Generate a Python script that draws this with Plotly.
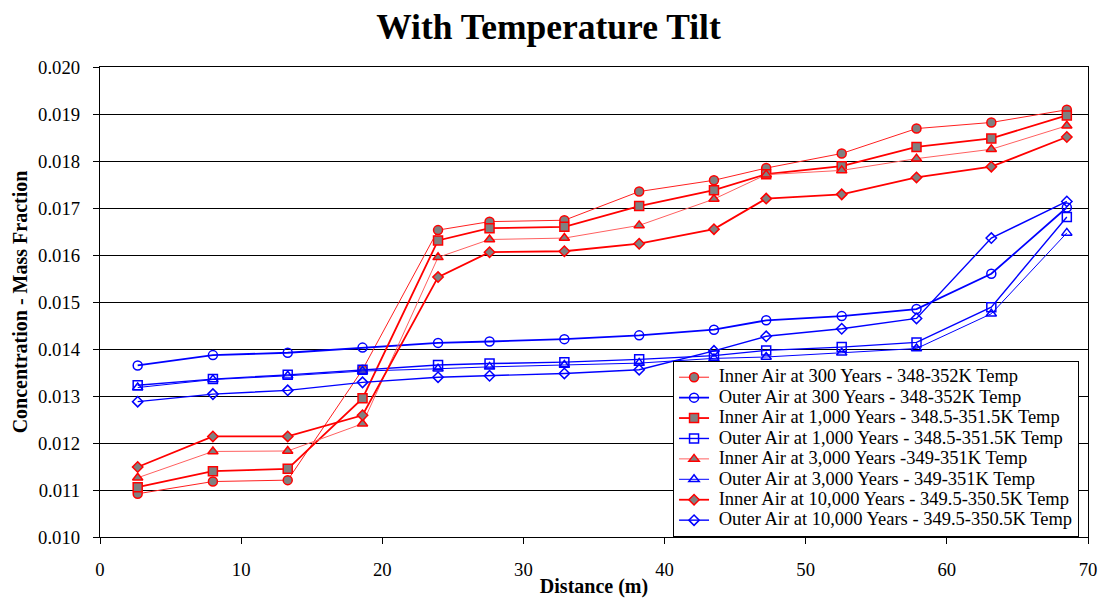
import plotly.graph_objects as go

distance = [2.67, 8.0, 13.3, 18.6, 23.95, 27.6, 32.9, 38.2, 43.5, 47.2, 52.55, 57.85, 63.15, 68.5]

inner_300 = [0.01092, 0.01118, 0.01121, 0.01356, 0.01653, 0.01671, 0.01674, 0.01735, 0.01759, 0.01785, 0.01816, 0.01869, 0.01882, 0.01909]
outer_300 = [0.01365, 0.01387, 0.01392, 0.01403, 0.01413, 0.01416, 0.01421, 0.01429, 0.01441, 0.01461, 0.01470, 0.01485, 0.01560, 0.01701]
inner_1000 = [0.01106, 0.01140, 0.01145, 0.01295, 0.01631, 0.01657, 0.01660, 0.01704, 0.01738, 0.01772, 0.01789, 0.01830, 0.01848, 0.01897]
outer_1000 = [0.01323, 0.01336, 0.01345, 0.01356, 0.01366, 0.01369, 0.01372, 0.01378, 0.01386, 0.01397, 0.01404, 0.01414, 0.01489, 0.01681]
inner_3000 = [0.01126, 0.01182, 0.01183, 0.01241, 0.01595, 0.01633, 0.01636, 0.01663, 0.01719, 0.01771, 0.01780, 0.01805, 0.01825, 0.01875]
outer_3000 = [0.01318, 0.01335, 0.01343, 0.01353, 0.01358, 0.01362, 0.01366, 0.01370, 0.01380, 0.01383, 0.01392, 0.01401, 0.01475, 0.01647]
inner_10000 = [0.01149, 0.01214, 0.01214, 0.01259, 0.01553, 0.01606, 0.01608, 0.01624, 0.01655, 0.01720, 0.01729, 0.01765, 0.01788, 0.01851]
outer_10000 = [0.01288, 0.01304, 0.01312, 0.01329, 0.01340, 0.01343, 0.01348, 0.01356, 0.01396, 0.01427, 0.01443, 0.01465, 0.01636, 0.01714]

names = [
    "Inner Air at 300 Years - 348-352K Temp",
    "Outer Air at 300 Years - 348-352K Temp",
    "Inner Air at 1,000 Years - 348.5-351.5K Temp",
    "Outer Air at 1,000 Years - 348.5-351.5K Temp",
    "Inner Air at 3,000 Years -349-351K Temp",
    "Outer Air at 3,000 Years - 349-351K Temp",
    "Inner Air at 10,000 Years - 349.5-350.5K Temp",
    "Outer Air at 10,000 Years - 349.5-350.5K Temp",
]
series = [inner_300, outer_300, inner_1000, outer_1000, inner_3000, outer_3000, inner_10000, outer_10000]

styles = [
    dict(line=dict(color="#FF2020", width=1), marker=dict(symbol="circle", size=9, color="#808080", line=dict(color="#FF0000", width=1.5))),
    dict(line=dict(color="#0000FF", width=1.8), marker=dict(symbol="circle-open", size=9, color="#0000FF", line=dict(width=1.5))),
    dict(line=dict(color="#FF0000", width=1.8), marker=dict(symbol="square", size=9, color="#808080", line=dict(color="#FF0000", width=1.5))),
    dict(line=dict(color="#0000FF", width=1.4), marker=dict(symbol="square-open", size=9, color="#0000FF", line=dict(width=1.5))),
    dict(line=dict(color="#FF6060", width=1), marker=dict(symbol="triangle-up", size=9, color="#808080", line=dict(color="#FF0000", width=1.5))),
    dict(line=dict(color="#0000FF", width=1), marker=dict(symbol="triangle-up-open", size=9, color="#0000FF", line=dict(width=1.5))),
    dict(line=dict(color="#FF0000", width=1.8), marker=dict(symbol="diamond", size=8, color="#808080", line=dict(color="#FF0000", width=1.5))),
    dict(line=dict(color="#0000FF", width=1.4), marker=dict(symbol="diamond-open", size=8, color="#0000FF", line=dict(width=1.5))),
]

fig = go.Figure()
for name, ys, st in zip(names, series, styles):
    fig.add_trace(go.Scatter(x=distance, y=ys, mode="lines+markers",
                             name='<span style="font-size:18.5px">\u00a0' + name + '</span>', **st))

font = "Liberation Serif, Times New Roman, serif"
fig.update_layout(
    width=1105, height=599,
    margin=dict(l=100, r=17, t=67, b=62),
    paper_bgcolor="white", plot_bgcolor="white",
    font=dict(family=font, size=18.7, color="black"),
    title=dict(text="<b>With Temperature Tilt</b>", x=548.5 / 1105, xanchor="center", y=1 - 27 / 599, yanchor="middle",
               font=dict(family=font, size=35.5, color="black")),
    showlegend=True,
    legend=dict(x=0.58, y=0.0, xanchor="left", yanchor="bottom", bgcolor="white",
                bordercolor="black", borderwidth=1, font=dict(family=font, size=13.4),
                tracegroupgap=0, itemwidth=30),
    xaxis=dict(range=[0, 70], dtick=10, tick0=0, showgrid=False, showline=True, linecolor="black",
               linewidth=1.3, mirror=True, ticks="outside", ticklen=6, tickcolor="black",
               tickfont=dict(size=18.7), zeroline=False, ticklabelstandoff=9, automargin=False,
               title=dict(text="<b>Distance (m)</b>", font=dict(size=20), standoff=0)),
    yaxis=dict(range=[0.010, 0.020], dtick=0.001, tick0=0.010, tickformat=".3f", showgrid=True,
               gridcolor="black", gridwidth=1, showline=True, linecolor="black", linewidth=1.3,
               mirror=True, ticks="outside", ticklen=6, tickcolor="black", tickfont=dict(size=18.7),
               zeroline=False, ticklabelstandoff=9, automargin=False,
               title=dict(text="<b>Concentration - Mass Fraction</b>", font=dict(size=20), standoff=5)),
)

fig.write_html("out.html", config={"displayModeBar": False},
               post_script="document.body.style.margin='0px';")
